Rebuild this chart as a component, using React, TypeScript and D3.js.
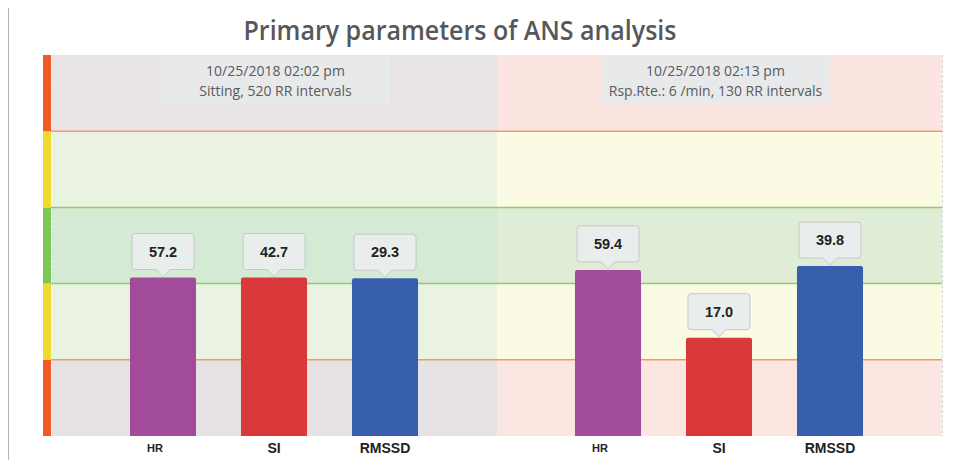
import React from "react";
import * as d3 from "d3";

const categories = ["HR", "SI", "RMSSD"];
const sessions = ["session1", "session2"];
const sessionLines1 = ["10/25/2018 02:02 pm", "10/25/2018  02:13 pm"];
const sessionLines2 = ["Sitting, 520 RR intervals", "Rsp.Rte.: 6 /min, 130 RR intervals"];
// displayed values
const valuesS1 = [57.2, 42.7, 29.3];
const valuesS2 = [59.4, 17.0, 39.8];
// normalized bar level (0–5 zone scale)
const levelsS1 = [2.08, 2.08, 2.07];
const levelsS2 = [2.18, 1.29, 2.23];
const zones = [0, 1, 2, 3, 4, 5];

const barColors = ["#a34b9b", "#d9393b", "#375fad"];
const stripColors = ["#f05a28", "#eedb30", "#7dc855", "#eedb30", "#f05a28"]; // bottom→top
const bgLeft = ["#e7e3e4", "#eaf2e1", "#d4ead5", "#eaf2e1", "#e8e3e4"];
const bgRight = ["#fce6e1", "#fbfbe3", "#dfedd6", "#fbfbe3", "#fce5e0"];
const lineColors: Record<number, string> = { 1: "#f29a66", 2: "#8dcc6a", 3: "#8dcc6a", 4: "#f29a66" };

export default function App() {
  const W = 958, H = 468;
  const left = 43, strip = 8, right = 942, top = 55, bottom = 436;
  const mid = 497;
  const y = d3.scaleLinear().domain([0, 5]).range([bottom, top]);
  const groupCenters = [274, 719];
  const xInner = d3.scaleBand().domain(categories).range([-166.5, 166.5]).paddingInner(0.405).paddingOuter(0.2025);
  const font = "'Helvetica Neue', Arial, 'Liberation Sans', sans-serif";
  const groups = [
    { vals: valuesS1, lv: levelsS1 },
    { vals: valuesS2, lv: levelsS2 },
  ];
  const boxes = [
    { x0: 161, x1: 390 },
    { x0: 601, x1: 830 },
  ];
  return (
    <div style={{ margin: -8 }}>
      <svg width={W} height={H} style={{ display: "block" }}>
        <rect x={0} y={0} width={W} height={H} fill="#fff" />
        <line x1={8.5} y1={3.5} x2={953} y2={3.5} stroke="#b5b5b5" strokeWidth={1} />
        <line x1={8.5} y1={3.5} x2={8.5} y2={H} stroke="#b5b5b5" strokeWidth={1} />
        <text x={460} y={40} textAnchor="middle" fontFamily="'Open Sans', sans-serif" fontWeight={600}
          fontSize={27} fill="#57575a" textLength={433} lengthAdjust="spacingAndGlyphs">
          Primary parameters of ANS analysis
        </text>
        {zones.slice(0, 5).map((z, i) => (
          <g key={"bg" + i}>
            <rect x={left + strip} y={y(z + 1)} width={mid - left - strip} height={y(z) - y(z + 1)} fill={bgLeft[i]} />
            <rect x={mid} y={y(z + 1)} width={right - mid} height={y(z) - y(z + 1)} fill={bgRight[i]} />
            <rect x={left} y={y(z + 1)} width={strip} height={y(z) - y(z + 1)} fill={stripColors[i]} />
          </g>
        ))}
        <line x1={left + strip + 0.5} y1={top} x2={left + strip + 0.5} y2={bottom} stroke="#fff" strokeOpacity={0.6} strokeDasharray="3,2" />
        <line x1={right + 0.5} y1={top} x2={right + 0.5} y2={bottom} stroke="#d8d8d8" strokeDasharray="3,2" />
        {zones.slice(1, 5).map((z) => (
          <line key={"l" + z} x1={left + strip} x2={right} y1={y(z)} y2={y(z)} stroke={lineColors[z]} strokeWidth={1.5} />
        ))}
        {sessions.map((s, i) => (
          <g key={s}>
            <rect x={boxes[i].x0} y={top + 1} width={boxes[i].x1 - boxes[i].x0} height={47} fill="#e8e9eb" />
            <text x={(boxes[i].x0 + boxes[i].x1) / 2} y={76} textAnchor="middle" fontFamily="'Open Sans', sans-serif" fontSize={14} fill="#5a5a5a">
              {sessionLines1[i]}
            </text>
            <text x={(boxes[i].x0 + boxes[i].x1) / 2} y={96} textAnchor="middle" fontFamily="'Open Sans', sans-serif" fontSize={14} fill="#5a5a5a">
              {sessionLines2[i]}
            </text>
          </g>
        ))}
        {groups.map((g, gi) => (
          <g key={"g" + gi} transform={`translate(${groupCenters[gi]},0)`}>
            {categories.map((c, ci) => {
              const bx = xInner(c)!;
              const bw = xInner.bandwidth();
              const by = y(g.lv[ci]);
              const cx = bx + bw / 2;
              const bt = by - 8;
              const bh = 36;
              const bwid = 62;
              return (
                <g key={c}>
                  <path
                    d={`M${bx},${bottom} L${bx},${by + 2} Q${bx},${by} ${bx + 2},${by} L${bx + bw - 2},${by} Q${bx + bw},${by} ${bx + bw},${by + 2} L${bx + bw},${bottom} Z`}
                    fill={barColors[ci]}
                  />
                  <path
                    d={`M${cx - bwid / 2 + 3},${bt - bh} L${cx + bwid / 2 - 3},${bt - bh} Q${cx + bwid / 2},${bt - bh} ${cx + bwid / 2},${bt - bh + 3} L${cx + bwid / 2},${bt - 3} Q${cx + bwid / 2},${bt} ${cx + bwid / 2 - 3},${bt} L${cx + 7},${bt} L${cx},${bt + 7} L${cx - 7},${bt} L${cx - bwid / 2 + 3},${bt} Q${cx - bwid / 2},${bt} ${cx - bwid / 2},${bt - 3} L${cx - bwid / 2},${bt - bh + 3} Q${cx - bwid / 2},${bt - bh} ${cx - bwid / 2 + 3},${bt - bh} Z`}
                    fill="#e9edec"
                    stroke="#c3c8cc"
                    strokeWidth={1}
                  />
                  <text x={cx} y={bt - bh / 2 + 5} textAnchor="middle" fontFamily={font} fontWeight={700} fontSize={14.5} fill="#222">
                    {g.vals[ci].toFixed(1)}
                  </text>
                  <text x={c === "HR" ? cx - 8 : cx} y={c === "HR" ? 452 : 453} textAnchor="middle" fontFamily={font} fontWeight={700}
                    fontSize={c === "HR" ? 11 : 14} fill="#222">
                    {c}
                  </text>
                </g>
              );
            })}
          </g>
        ))}
      </svg>
    </div>
  );
}
